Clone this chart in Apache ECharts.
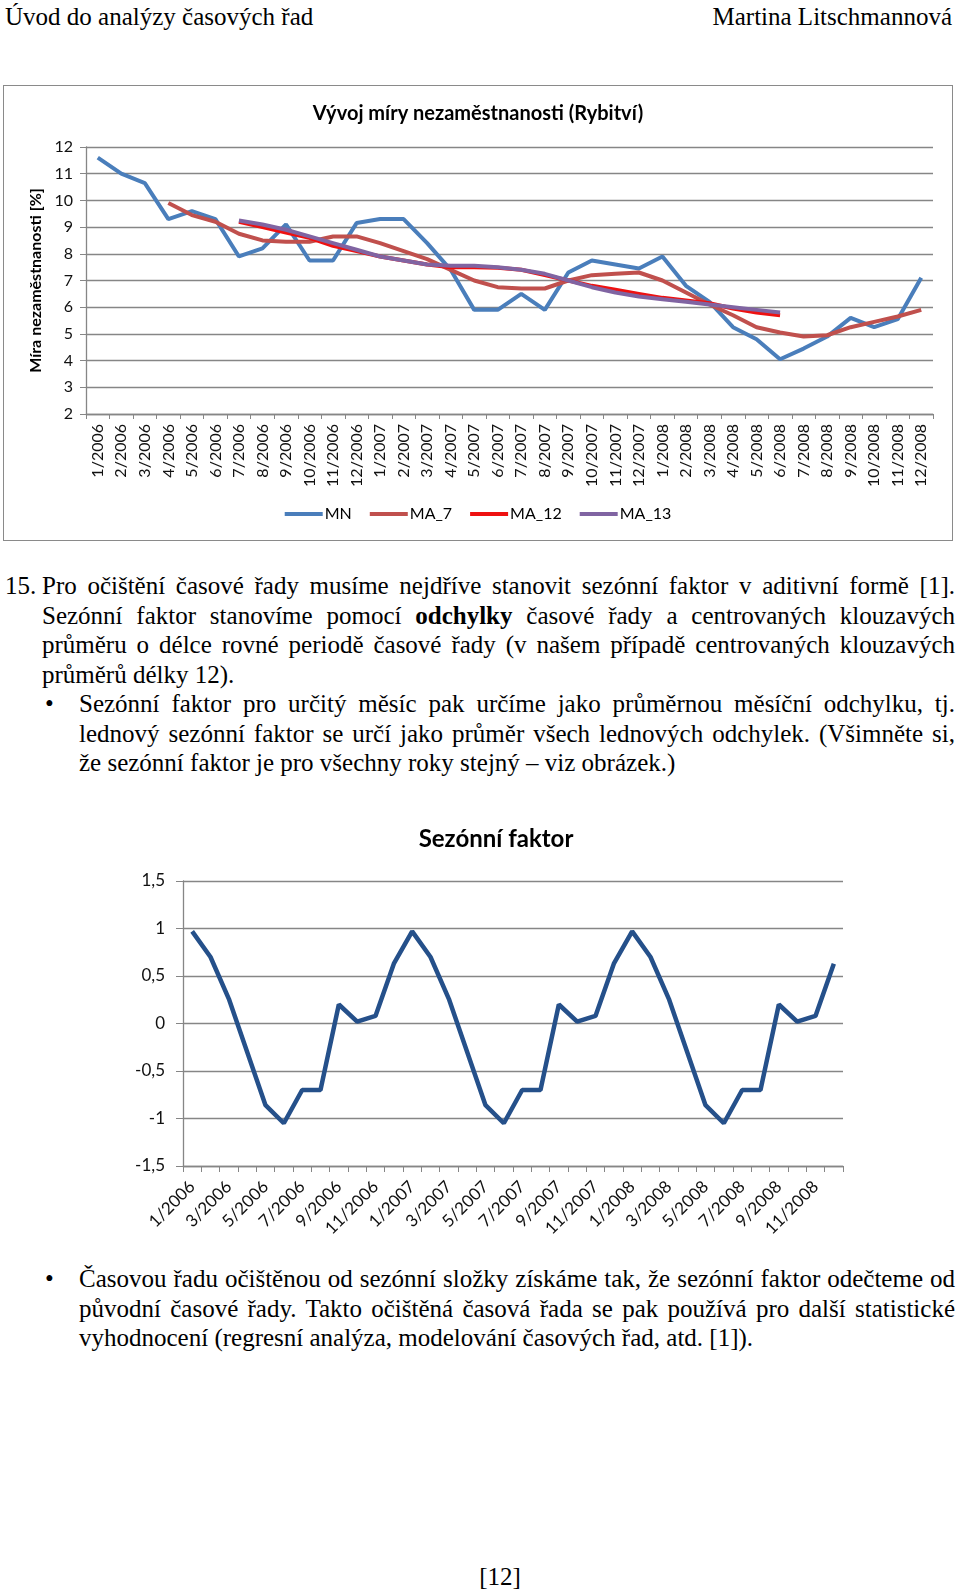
<!DOCTYPE html>
<html>
<head>
<meta charset="utf-8">
<script src="https://cdn.jsdelivr.net/npm/echarts@6/dist/echarts.min.js"></script>
<style>
  html, body { margin:0; padding:0; background:#fff; }
  #page { position:relative; width:960px; height:1593px; overflow:hidden; background:#fff;
          font-family:"Liberation Serif","Times New Roman",serif; color:#000; }
  .ln { position:absolute; font-size:25px; line-height:30px; height:30px; white-space:nowrap; }
  .just { text-align:justify; text-align-last:justify; }
  #c1 { position:absolute; left:3px; top:85px; width:950px; height:456px; border:1px solid #8a8a8a; box-sizing:border-box; }
  #c2 { position:absolute; left:32px; top:800px; width:928px; height:460px; }
</style>
</head>
<body>
<div id="page">
  <div class="ln" style="left:5px; top:2px;"><span>Úvod do analýzy časových řad</span></div>
  <div class="ln" style="left:600px; top:2px; width:352px; text-align:right;"><span>Martina Litschmannová</span></div>

  <div id="c1"></div>

  <div class="ln" style="left:5px; top:571px;"><span>15.</span></div>
  <div class="ln J" style="left:42px; top:571px; width:913px;"><span>Pro očištění časové řady musíme nejdříve stanovit sezónní faktor v aditivní formě [1].</span></div>
  <div class="ln J" style="left:42px; top:601px; width:913px;"><span>Sezónní faktor stanovíme pomocí <b>odchylky</b> časové řady a centrovaných klouzavých</span></div>
  <div class="ln J" style="left:42px; top:630px; width:913px;"><span>průměru o délce rovné periodě časové řady (v našem případě centrovaných klouzavých</span></div>
  <div class="ln" style="left:42px; top:660px;"><span>průměrů délky 12).</span></div>
  <div class="ln" style="left:45px; top:689px;"><span>•</span></div>
  <div class="ln J" style="left:79px; top:689px; width:876px;"><span>Sezónní faktor pro určitý měsíc pak určíme jako průměrnou měsíční odchylku, tj.</span></div>
  <div class="ln J" style="left:79px; top:719px; width:876px;"><span>lednový sezónní faktor se určí jako průměr všech lednových odchylek. (Všimněte si,</span></div>
  <div class="ln" style="left:79px; top:748px;"><span>že sezónní faktor je pro všechny roky stejný – viz obrázek.)</span></div>

  <div id="c2"></div>

  <div class="ln" style="left:45px; top:1264px;"><span>•</span></div>
  <div class="ln J" style="left:79px; top:1264px; width:876px;"><span>Časovou řadu očištěnou od sezónní složky získáme tak, že sezónní faktor odečteme od</span></div>
  <div class="ln J" style="left:79px; top:1294px; width:876px;"><span>původní časové řady. Takto očištěná časová řada se pak používá pro další statistické</span></div>
  <div class="ln" style="left:79px; top:1323px;"><span>vyhodnocení (regresní analýza, modelování časových řad, atd. [1]).</span></div>

  <div class="ln" style="left:420px; top:1562px; width:160px; text-align:center;"><span>[12]</span></div>
</div>

<script>
// ---------- data ----------
const months = [
  '1/2006','2/2006','3/2006','4/2006','5/2006','6/2006','7/2006','8/2006','9/2006','10/2006','11/2006','12/2006',
  '1/2007','2/2007','3/2007','4/2007','5/2007','6/2007','7/2007','8/2007','9/2007','10/2007','11/2007','12/2007',
  '1/2008','2/2008','3/2008','4/2008','5/2008','6/2008','7/2008','8/2008','9/2008','10/2008','11/2008','12/2008'
];
const MN = [
  11.6, 11.0, 10.65, 9.3, 9.6, 9.3, 7.9, 8.2, 9.1, 7.75, 7.75, 9.15,
  9.3, 9.3, 8.4, 7.4, 5.9, 5.9, 6.5, 5.9, 7.3, 7.75, 7.6, 7.45,
  7.9, 6.8, 6.2, 5.25, 4.8, 4.05, 4.45, 4.9, 5.6, 5.25, 5.55, 7.1
];
const MA_7 = [
  null, null, null, 9.9, 9.45, 9.2, 8.75, 8.5, 8.45, 8.45, 8.65, 8.65,
  8.4, 8.1, 7.8, 7.4, 7.0, 6.75, 6.7, 6.7, 7.0, 7.2, 7.25, 7.3,
  7.0, 6.55, 6.1, 5.7, 5.25, 5.05, 4.9, 4.95, 5.25, 5.45, 5.65, 5.9
];
const MA_12 = [
  null, null, null, null, null, null, 9.2, 9.0, 8.8, 8.6, 8.3, 8.1,
  7.9, 7.75, 7.6, 7.5, 7.5, 7.48, 7.4, 7.2, 7.0, 6.8, 6.65, 6.5,
  6.35, 6.25, 6.15, 5.95, 5.8, 5.7, null, null, null, null, null, null
];
const MA_13 = [
  null, null, null, null, null, null, 9.25, 9.1, 8.9, 8.65, 8.4, 8.15,
  7.9, 7.75, 7.6, 7.55, 7.55, 7.5, 7.4, 7.25, 7.0, 6.75, 6.55, 6.4,
  6.3, 6.2, 6.1, 6.0, 5.9, 5.8, null, null, null, null, null, null
];
const sezonniFaktor = [
  0.97, 0.70, 0.26, -0.30, -0.86, -1.05, -0.70, -0.70, 0.20, 0.02, 0.08, 0.63,
  0.97, 0.70, 0.26, -0.30, -0.86, -1.05, -0.70, -0.70, 0.20, 0.02, 0.08, 0.63,
  0.97, 0.70, 0.26, -0.30, -0.86, -1.05, -0.70, -0.70, 0.20, 0.02, 0.08, 0.63
];
const title1 = 'Vývoj míry nezaměstnanosti (Rybitví)';
const yName1 = 'Míra nezaměstnanosti [%]';
const title2 = 'Sezónní faktor';

// ---------- text fitting ----------
document.querySelectorAll('.ln.J').forEach(el => {
  const w = parseFloat(el.style.width);
  const sp = el.querySelector('span');
  const nat = sp.getBoundingClientRect().width;
  if (nat > w) {
    const n = (sp.textContent.match(/ /g) || []).length;
    el.style.wordSpacing = ((w - nat) / n - 0.3) + 'px';
  }
  el.classList.add('just');
});

// ---------- chart 1 ----------
const FONT = 'Lato';
const gridColor = '#868686';
const c1 = echarts.init(document.getElementById('c1'), null, {renderer:'canvas'});
c1.setOption({
  animation: false,
  textStyle: { fontFamily: FONT },
  title: { text: title1, left: 'center', top: 13,
           textStyle: { fontFamily: FONT, fontWeight: 'bold', fontSize: 20, color: '#000' } },
  legend: {
    top: 415, left: 'center', icon: 'rect', itemWidth: 38, itemHeight: 4, itemGap: 18,
    textStyle: { fontFamily: FONT, fontSize: 16, color: '#000', padding: [0,0,0,-3] },
    data: ['MN','MA_7','MA_12','MA_13']
  },
  grid: { left: 82, top: 61, width: 847, height: 267 },
  xAxis: {
    type: 'category', data: months, boundaryGap: true,
    axisLine: { lineStyle: { color: gridColor, width: 1.3 } },
    axisTick: { show: true, interval: 0, length: 5, lineStyle: { color: gridColor } },
    axisLabel: { interval: 0, rotate: 90, margin: 10, fontFamily: FONT, fontSize: 16, color: '#111' }
  },
  yAxis: {
    type: 'value', min: 2, max: 12, interval: 1,
    name: yName1, nameLocation: 'middle', nameGap: 41,
    nameTextStyle: { fontFamily: FONT, fontWeight: 'bold', fontSize: 16, color: '#000' },
    axisLine: { show: true, lineStyle: { color: gridColor, width: 1.3 } },
    axisTick: { show: true, length: 6, lineStyle: { color: gridColor } },
    axisLabel: { margin: 13, fontFamily: FONT, fontSize: 16, color: '#111' },
    splitLine: { lineStyle: { color: gridColor, width: 1.3 } }
  },
  series: [
    { name: 'MN', type: 'line', data: MN, symbol: 'none', color: '#4A7EBB', lineStyle: { width: 4 } },
    { name: 'MA_7', type: 'line', data: MA_7, symbol: 'none', color: '#C0504D', lineStyle: { width: 4 } },
    { name: 'MA_12', type: 'line', data: MA_12, symbol: 'none', color: '#EE1111', lineStyle: { width: 4 } },
    { name: 'MA_13', type: 'line', data: MA_13, symbol: 'none', color: '#8064A2', lineStyle: { width: 4 } }
  ]
});

// ---------- chart 2 ----------
const c2 = echarts.init(document.getElementById('c2'), null, {renderer:'canvas'});
c2.setOption({
  animation: false,
  textStyle: { fontFamily: FONT },
  title: { text: title2, left: 'center', top: 22,
           textStyle: { fontFamily: FONT, fontWeight: 'bold', fontSize: 24, color: '#000' } },
  grid: { left: 151, top: 81, width: 660, height: 285 },
  xAxis: {
    type: 'category', data: months, boundaryGap: true,
    axisLine: { onZero: false, lineStyle: { color: gridColor, width: 1.3 } },
    axisTick: { show: true, interval: 0, length: 6, lineStyle: { color: gridColor } },
    axisLabel: { interval: 1, rotate: 45, margin: 18, fontFamily: FONT, fontSize: 17, color: '#111' }
  },
  yAxis: {
    type: 'value', min: -1.5, max: 1.5, interval: 0.5,
    axisLine: { show: true, lineStyle: { color: gridColor, width: 1.3 } },
    axisTick: { show: true, length: 7, lineStyle: { color: gridColor } },
    axisLabel: { margin: 18, fontFamily: FONT, fontSize: 17, color: '#111',
                 formatter: v => String(v).replace('.', ',') },
    splitLine: { lineStyle: { color: gridColor, width: 1.3 } }
  },
  series: [
    { name: 'Sezónní faktor', type: 'line', data: sezonniFaktor, symbol: 'none',
      color: '#25508A', lineStyle: { width: 4.5 } }
  ]
});
</script>
</body>
</html>
